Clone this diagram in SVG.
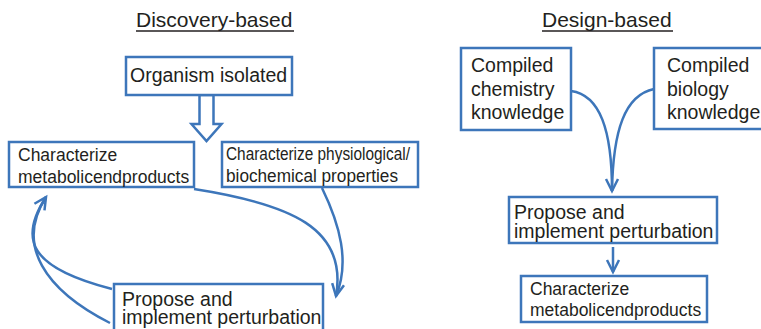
<svg xmlns="http://www.w3.org/2000/svg" width="761" height="329" viewBox="0 0 761 329">
<style>
.box{fill:#fff;stroke:#3D76BA;stroke-width:2.5}
.t{font-family:"Liberation Sans",Arial,sans-serif;fill:#231F20}
.big{font-size:19.5px}
.sm{font-size:17.5px}
.title{font-size:21px}
.con{fill:none;stroke:#3D76BA;stroke-width:2.5}
</style>
<defs>
<marker id="ah" markerUnits="userSpaceOnUse" viewBox="-14 -8 16 16" markerWidth="16" markerHeight="16" refX="0" refY="0" orient="auto" overflow="visible">
<path d="M-12,-6 L0,0 L-12,6" fill="none" stroke="#3D76BA" stroke-width="2.5"/>
</marker>
</defs>
<rect width="761" height="329" fill="#fff"/>

<g id="title-discovery">
<text class="t title" x="136" y="27">Discovery-based</text>
<line x1="136" y1="31" x2="294" y2="31" stroke="#231F20" stroke-width="1.5"/>
</g>
<g id="title-design">
<text class="t title" x="542" y="27">Design-based</text>
<line x1="542" y1="31" x2="673" y2="31" stroke="#231F20" stroke-width="1.5"/>
</g>

<g id="connectors">
<polygon points="199.5,95 213.5,95 213.5,124 221.5,124 206.5,141 191.5,124 199.5,124" fill="#fff" stroke="#3D76BA" stroke-width="2.5" stroke-linejoin="miter"/>
<path class="con" d="M194,189 C290,204 348,228 336,296" marker-end="url(#ah)"/>
<path class="con" d="M322,188 C340,225 350,262 336,296"/>
<path class="con" d="M112,289 C30,268 18,240 46,197" marker-end="url(#ah)"/>
<path class="con" d="M110,323 C45,290 15,245 46,197"/>
<path class="con" d="M571,91 C600,95 612,130 612,191" marker-end="url(#ah)"/>
<path class="con" d="M654,89 C625,95 613,130 612,191"/>
<path class="con" d="M613,247 L613,272" marker-end="url(#ah)"/>
</g>

<g id="organism">
<rect class="box" x="126" y="57" width="166" height="38"/>
<text class="t big" x="130" y="82">Organism isolated</text>
</g>
<g id="metabolic-left">
<rect class="box" x="9" y="142" width="185" height="45"/>
<text class="t sm" x="18" y="161">Characterize</text>
<text class="t sm" x="18" y="183">metabolicendproducts</text>
</g>
<g id="physiological">
<rect class="box" x="222" y="142" width="196" height="45"/>
<text class="t sm" x="226" y="160" textLength="184" lengthAdjust="spacingAndGlyphs">Characterize physiological/</text>
<text class="t sm" x="226" y="182" textLength="172" lengthAdjust="spacingAndGlyphs">biochemical properties</text>
</g>
<g id="propose-left">
<rect class="box" x="114" y="284" width="209" height="60"/>
<text class="t big" x="122" y="306">Propose and</text>
<text class="t big" x="122" y="324">implement perturbation</text>
</g>

<g id="chemistry">
<rect class="box" x="461" y="48" width="110" height="82"/>
<text class="t big" x="471" y="72">Compiled</text>
<text class="t big" x="471" y="96">chemistry</text>
<text class="t big" x="471" y="119">knowledge</text>
</g>
<g id="biology">
<rect class="box" x="654" y="48" width="120" height="81"/>
<text class="t big" x="667" y="72">Compiled</text>
<text class="t big" x="667" y="96">biology</text>
<text class="t big" x="667" y="119">knowledge</text>
</g>
<g id="propose-right">
<rect class="box" x="509" y="197" width="208" height="46"/>
<text class="t big" x="514" y="219">Propose and</text>
<text class="t big" x="514" y="238">implement perturbation</text>
</g>
<g id="metabolic-right">
<rect class="box" x="521" y="276" width="186" height="46"/>
<text class="t sm" x="530" y="295">Characterize</text>
<text class="t sm" x="530" y="316">metabolicendproducts</text>
</g>
</svg>
